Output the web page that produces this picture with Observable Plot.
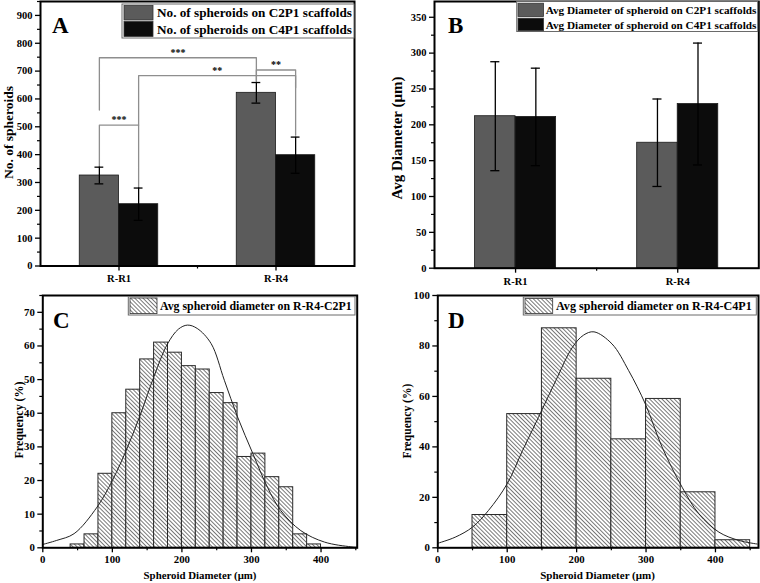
<!DOCTYPE html>
<html><head><meta charset="utf-8">
<script src="https://cdn.jsdelivr.net/npm/d3@7"></script>
<script src="https://cdn.jsdelivr.net/npm/@observablehq/plot@0.6"></script>
<style>
body{margin:0;background:#fff;}
#wrap{position:relative;width:760px;height:583px;overflow:hidden;background:#fff;}
.panel{position:absolute;}
#overlay{position:absolute;left:0;top:0;pointer-events:none;}
</style></head><body>
<svg width="0" height="0" style="position:absolute">
<defs>
<pattern id="hatch" patternUnits="userSpaceOnUse" width="2.9" height="2.9" patternTransform="rotate(-45)">
<rect width="2.9" height="2.9" fill="#fff"/>
<line x1="0" y1="0" x2="0" y2="2.9" stroke="#2a2a2a" stroke-width="1.25"/>
</pattern>
</defs></svg>
<div id="wrap">
<div id="pA" class="panel" style="left:0;top:0"></div>
<div id="pB" class="panel" style="left:380px;top:0"></div>
<div id="pC" class="panel" style="left:0;top:290px"></div>
<div id="pD" class="panel" style="left:380px;top:290px"></div>
<svg id="overlay" width="760" height="583"></svg>
</div>
<script>
// ---------------- DATA ----------------
const categories = ["R-R1", "R-R4"];

const seriesA = ["No. of spheroids on C2P1 scaffolds", "No. of spheroids on C4P1 scaffolds"];
const countC2P1 = [325, 622];
const countC2P1Err = [30, 37];
const countC4P1 = [222, 398];
const countC4P1Err = [58, 65];

const seriesB = ["Avg Diameter of spheroid on C2P1 scaffolds", "Avg Diameter of spheroid on C4P1 scaffolds"];
const diamC2P1 = [212, 175];
const diamC2P1Err = [76, 61];
const diamC4P1 = [211, 229];
const diamC4P1Err = [68, 85];

// significance brackets ([category index, series index])
const sigFrom = [[0, 0], [0, 0], [0, 1], [1, 0]];
const sigTo = [[0, 1], [1, 0], [1, 1], [1, 1]];
const sigLevel = [506, 748, 684, 704];
const sigFromEnd = [354, 560, 506, 665];
const sigToEnd = [281, 658, 470, 640];
const sigLabel = ["***", "***", "**", "**"];

const legendC = "Avg spheroid diameter on R-R4-C2P1";
const binStartC = [40, 60, 80, 100, 120, 140, 160, 180, 200, 220, 240, 260, 280, 300, 320, 340, 360, 380];
const binEndC = [60, 80, 100, 120, 140, 160, 180, 200, 220, 240, 260, 280, 300, 320, 340, 360, 380, 400];
const freqC = [1, 4, 22, 40, 47, 56, 61, 58, 54, 53, 46, 43, 27, 28, 21, 18, 4, 1];
const fitCx = [0, 20, 45, 78, 100, 122, 141, 160, 179, 195, 208, 222, 242, 261, 280, 302, 323, 342, 371, 405, 443, 452];
const fitCy = [1.0, 2.2, 4.2, 12.1, 20, 30, 40, 51, 60.5, 65, 66.2, 65.2, 60.7, 49.8, 38.9, 28, 18, 11.1, 5.1, 1.7, 0.3, 0.2];

const legendD = "Avg spheroid diameter on R-R4-C4P1";
const binStartD = [50, 100, 150, 200, 250, 300, 350, 400];
const binEndD = [100, 150, 200, 250, 300, 350, 400, 450];
const freqD = [13, 53, 87, 67, 43, 59, 22, 3];
const fitDx = [0, 25, 50, 73, 100, 122, 145, 170, 194, 210, 225, 251, 275, 299, 323, 352, 376, 405, 434, 460];
const fitDy = [1.8, 4.2, 8.2, 14.8, 25.4, 38.5, 51.7, 66.3, 79.5, 84.3, 85.6, 80.8, 70.2, 57, 40, 24, 13.5, 6.2, 2.9, 1.5];

const yTicksA = [0, 100, 200, 300, 400, 500, 600, 700, 800, 900];
const yTicksB = [0, 50, 100, 150, 200, 250, 300, 350];
const yTicksC = [0, 10, 20, 30, 40, 50, 60, 70];
const yTicksD = [0, 20, 40, 60, 80, 100];
const xTicksHist = [0, 100, 200, 300, 400];

// ---------------- STYLE ----------------
const FONT = "Liberation Serif, Times New Roman, serif";
const barColors = ["#5b5b5b", "#0c0c0c"];
const bracketColor = "#8e8e8e";
const barOff = [-0.25, 0];
const barW = 0.25;
const capHalf = 0.028;

function baseStyle(size) {
  return {fontFamily: FONT, fontWeight: "bold", fontSize: size + "px", color: "#000", background: "transparent", overflow: "visible"};
}

function barRows(v0, e0, v1, e1, names) {
  const rows = [];
  categories.forEach((c, i) => {
    [[v0, e0], [v1, e1]].forEach(([v, e], s) => {
      const x1 = i + 1 + barOff[s];
      rows.push({cat: c, series: names[s], x1, x2: x1 + barW, xc: x1 + barW / 2, v: v[i], lo: v[i] - e[i], hi: v[i] + e[i]});
    });
  });
  return rows;
}
const centerOf = ([c, s]) => c + 1 + barOff[s] + barW / 2;
const minorOf = (ticks, step) => ticks.map(t => t + step);

function barMarks(rows, yTicks, minorStep, yMax) {
  const minor = minorOf(yTicks, minorStep).filter(t => t <= yMax);
  return [
    Plot.rect(rows, {x1: "x1", x2: "x2", y1: () => 0, y2: "v", fill: "series", stroke: "#1a1a1a", strokeWidth: 0.8}),
    Plot.ruleX(rows, {x: "xc", y1: "lo", y2: "hi", stroke: "#000", strokeWidth: 1.3}),
    Plot.ruleY(rows, {y: "hi", x1: d => d.xc - capHalf, x2: d => d.xc + capHalf, stroke: "#000", strokeWidth: 1.3}),
    Plot.ruleY(rows, {y: "lo", x1: d => d.xc - capHalf, x2: d => d.xc + capHalf, stroke: "#000", strokeWidth: 1.3}),
    Plot.axisY({ticks: yTicks, tickSize: 5, tickPadding: 3, label: null, strokeWidth: 1.3}),
    Plot.axisY({ticks: minor, tickSize: 3, fill: "none", label: null, strokeWidth: 1.2}),
    Plot.axisX({ticks: [1, 2], tickFormat: d => categories[d - 1], tickSize: 5, tickPadding: 4, label: null, strokeWidth: 1.3}),
    Plot.axisX({ticks: [1.5], tickSize: 3, fill: "none", label: null, strokeWidth: 1.2}),
    Plot.frame({stroke: "#000", strokeWidth: 2})
  ];
}

// ---------------- PANEL A ----------------
const rowsA = barRows(countC2P1, countC2P1Err, countC4P1, countC4P1Err, seriesA);
const bracketPts = [];
const bracketLabels = [];
sigFrom.forEach((f, i) => {
  const xa = centerOf(f), xb = centerOf(sigTo[i]);
  bracketPts.push({id: i, x: xa, y: sigFromEnd[i]}, {id: i, x: xa, y: sigLevel[i]}, {id: i, x: xb, y: sigLevel[i]}, {id: i, x: xb, y: sigToEnd[i]});
  bracketLabels.push({x: (xa + xb) / 2, y: sigLevel[i], label: sigLabel[i]});
});
const plotA = Plot.plot({
  width: 380, height: 290, marginLeft: 40, marginRight: 26, marginTop: 1, marginBottom: 24.5,
  style: baseStyle(10.5),
  x: {domain: [0.5, 2.5]},
  y: {domain: [0, 950]},
  color: {domain: seriesA, range: barColors},
  marks: [
    Plot.line(bracketPts, {x: "x", y: "y", z: "id", stroke: bracketColor, strokeWidth: 1.3}),
    Plot.text(bracketLabels, {x: "x", y: "y", text: "label", dy: -2, lineAnchor: "bottom", fontSize: 10, fill: "#000"}),
    ...barMarks(rowsA, yTicksA, 50, 950)
  ]
});
document.getElementById("pA").append(plotA);

// ---------------- PANEL B ----------------
const rowsB = barRows(diamC2P1, diamC2P1Err, diamC4P1, diamC4P1Err, seriesB);
const plotB = Plot.plot({
  width: 380, height: 290, marginLeft: 54, marginRight: 1.7, marginTop: 1, marginBottom: 22.3,
  style: baseStyle(10.5),
  x: {domain: [0.5, 2.5]},
  y: {domain: [0, 372]},
  color: {domain: seriesB, range: barColors},
  marks: barMarks(rowsB, yTicksB, 25, 372)
});
document.getElementById("pB").append(plotB);

// ---------------- HISTOGRAMS ----------------
function histPlot(starts, ends, freq, fx, fy, yTicks, yMinor, xMax, yMax, margins) {
  const bins = starts.map((s, i) => ({x0: s, x1: ends[i], f: freq[i]}));
  const fit = fx.map((x, i) => ({x, y: fy[i]}));
  return Plot.plot({
    width: 380, height: 293, ...margins,
    style: baseStyle(10.8),
    x: {domain: [0, xMax]},
    y: {domain: [0, yMax]},
    marks: [
      Plot.rect(bins, {x1: "x0", x2: "x1", y1: () => 0, y2: "f", fill: "url(#hatch)", stroke: "#2a2a2a", strokeWidth: 1}),
      Plot.line(fit, {x: "x", y: "y", curve: "catmull-rom", stroke: "#222", strokeWidth: 1}),
      Plot.axisY({ticks: yTicks, tickSize: 5, tickPadding: 3, label: null, strokeWidth: 1.3}),
      Plot.axisY({ticks: minorOf(yTicks, yMinor).filter(t => t <= yMax), tickSize: 3, fill: "none", label: null, strokeWidth: 1.2}),
      Plot.axisX({ticks: xTicksHist, tickSize: 5, tickPadding: 3, label: null, strokeWidth: 1.3}),
      Plot.axisX({ticks: minorOf(xTicksHist, 50).filter(t => t <= xMax), tickSize: 3, fill: "none", label: null, strokeWidth: 1.2}),
      Plot.frame({stroke: "#000", strokeWidth: 2})
    ]
  });
}
document.getElementById("pC").append(histPlot(binStartC, binEndC, freqC, fitCx, fitCy, yTicksC, 5, 452, 75,
  {marginLeft: 42.3, marginRight: 23.3, marginTop: 5, marginBottom: 35.7}));
document.getElementById("pD").append(histPlot(binStartD, binEndD, freqD, fitDx, fitDy, yTicksD, 10, 462, 100,
  {marginLeft: 57.3, marginRight: 2, marginTop: 5, marginBottom: 35.7}));

// ---------------- OVERLAY: legends, letters, axis titles ----------------
const ov = d3.select("#overlay");
function addText(x, y, s, size, opts = {}) {
  const t = ov.append("text").attr("x", 0).attr("y", 0).text(s)
    .attr("font-family", FONT).attr("font-weight", "bold").attr("font-size", size).attr("fill", "#000")
    .attr("text-anchor", opts.anchor || "start");
  if (opts.fit) {
    const w = t.node().getComputedTextLength();
    if (w > 0) t.attr("font-size", size * opts.fit / w);
  }
  t.attr("transform", `translate(${x},${y})` + (opts.rotate ? ` rotate(${opts.rotate})` : ""));
  return t;
}
function legendBox(x, y, w, h) {
  ov.append("rect").attr("x", x).attr("y", y).attr("width", w).attr("height", h)
    .attr("fill", "#fff").attr("stroke", "#6a6a6a").attr("stroke-width", 1);
}
function swatch(x, y, w, h, fill) {
  ov.append("rect").attr("x", x).attr("y", y).attr("width", w).attr("height", h)
    .attr("fill", fill).attr("stroke", "#333").attr("stroke-width", 0.8);
}

// Panel A legend
legendBox(122, 4, 232, 34);
swatch(124, 5.5, 29, 14.5, barColors[0]);
swatch(124, 21.5, 29, 15, barColors[1]);
addText(157, 17, seriesA[0], 13, {fit: 195});
addText(157, 33.5, seriesA[1], 13, {fit: 195});
// Panel B legend
legendBox(516.7, 1.5, 241, 30);
swatch(518, 3.2, 25.5, 13.3, barColors[0]);
swatch(518, 18.2, 25.5, 12.5, barColors[1]);
addText(545.7, 14.3, seriesB[0], 11, {fit: 211});
addText(545.7, 28.8, seriesB[1], 11, {fit: 211});
// Panel C legend
legendBox(128.3, 296.7, 226.7, 18.3);
swatch(130, 298, 27, 15.6, "url(#hatch)");
addText(160, 310, legendC, 12.5, {fit: 192});
// Panel D legend
legendBox(523.3, 297, 233, 18);
swatch(525, 298.5, 27.7, 15, "url(#hatch)");
addText(556, 310, legendD, 12.5, {fit: 196});

// Panel letters
addText(52, 33.3, "A", 23);
addText(448, 33.3, "B", 23);
addText(53, 327.7, "C", 23);
addText(448, 327.7, "D", 23);

// Axis titles
addText(13, 132.5, "No. of spheroids", 12.5, {anchor: "middle", rotate: -90, fit: 93});
addText(402, 138, "Avg Diameter (μm)", 13.5, {anchor: "middle", rotate: -90, fit: 123});
addText(22.5, 420, "Frequency (%)", 11.5, {anchor: "middle", rotate: -90, fit: 77});
addText(410.8, 421, "Frequency (%)", 11.5, {anchor: "middle", rotate: -90, fit: 75});
addText(200, 579, "Spheroid Diameter (μm)", 11.5, {anchor: "middle", fit: 113});
addText(597.5, 579, "Spheroid Diameter (μm)", 11.5, {anchor: "middle", fit: 115});
</script>
</body></html>
